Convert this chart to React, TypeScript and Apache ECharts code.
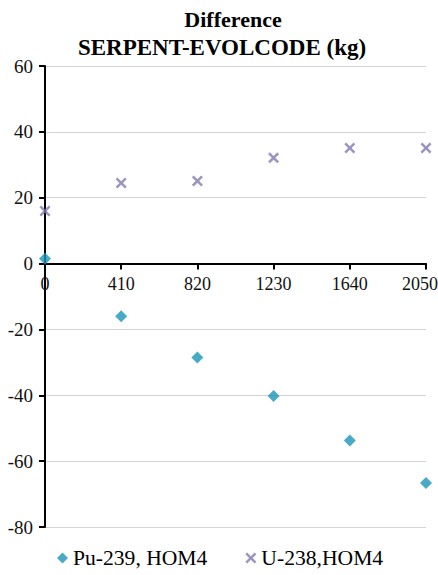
import React, { useEffect, useRef } from "react";
import * as echarts from "echarts";

const xValues = [0, 410, 820, 1230, 1640, 2050];
const pu239 = [1.5, -16, -28.5, -40.2, -53.7, -66.6];
const u238 = [16, 24.5, 25.1, 32.1, 35.1, 35.1];
const seriesNames = ["Pu-239, HOM4", "U-238,HOM4"];
const titleLines = ["Difference", "SERPENT-EVOLCODE (kg)"];
const yMin = -80;
const yMax = 60;
const xMax = 2050;

const crossPath =
  "path://M0,1.6L1.6,0L5,3.4L8.4,0L10,1.6L6.6,5L10,8.4L8.4,10L5,6.6L1.6,10L0,8.4L3.4,5Z";

export default function App() {
  const ref = useRef<HTMLDivElement>(null);
  useEffect(() => {
    if (!ref.current) return;
    const chart = echarts.init(ref.current, undefined, { renderer: "svg" });
    const serif = "Liberation Serif, Times New Roman, serif";
    const H = 575;
    const gridTop = 66;
    const gridBottom = 48;
    const gridH = H - gridTop - gridBottom;
    const zeroOffset = -(gridH * (0 - yMin)) / (yMax - yMin);
    chart.setOption({
      animation: false,
      backgroundColor: "#ffffff",
      title: [
        {
          text: titleLines[0],
          left: 228,
          textAlign: "center",
          top: 3,
          textStyle: { fontFamily: serif, fontWeight: "bold", fontSize: 22, color: "#000" },
        },
        {
          text: titleLines[1],
          left: 217,
          textAlign: "center",
          top: 31,
          textStyle: { fontFamily: serif, fontWeight: "bold", fontSize: 23, color: "#000" },
        },
      ],
      grid: { left: 45, right: 12, top: gridTop, bottom: gridBottom, containLabel: false, outerBoundsMode: "none" },
      xAxis: {
        type: "value",
        min: 0,
        max: xMax,
        interval: 410,
        position: "bottom",
        offset: zeroOffset,
        axisLine: { onZero: false, lineStyle: { color: "#000", width: 2 } },
        axisTick: { show: true, length: 6, lineStyle: { color: "#000", width: 2 } },
        axisLabel: {
          fontFamily: serif,
          fontSize: 18,
          color: "#111",
          margin: 11,
          showMaxLabel: true,
          showMinLabel: true,
          formatter: (v: number) => (v === xMax ? `{m|${v}}` : String(v)),
          rich: {
            m: { fontFamily: serif, fontSize: 18, color: "#111", padding: [0, 12, 0, 0] },
          },
        },
        splitLine: { show: false },
      },
      yAxis: {
        type: "value",
        min: yMin,
        max: yMax,
        interval: 20,
        axisLine: { show: true, lineStyle: { color: "#000", width: 2 } },
        axisTick: { show: true, length: 6, lineStyle: { color: "#000", width: 2 } },
        axisLabel: { fontFamily: serif, fontSize: 19, color: "#111", margin: 12 },
        splitLine: { show: true, lineStyle: { color: "#d4d4d4", width: 1 } },
      },
      legend: {
        top: 542,
        left: 52,
        itemGap: 38,
        itemWidth: 11,
        itemHeight: 11,
        textStyle: { fontFamily: serif, fontSize: 21.6, color: "#000" },
        data: [
          { name: seriesNames[0], icon: "diamond" },
          { name: seriesNames[1], icon: crossPath },
        ],
      },
      series: [
        {
          name: seriesNames[0],
          type: "scatter",
          symbol: "diamond",
          symbolSize: 12,
          clip: false,
          itemStyle: { color: "#1b95b8" },
          data: xValues.map((x, i) => [x, pu239[i]]),
        },
        {
          name: seriesNames[1],
          type: "scatter",
          symbol: crossPath,
          symbolSize: 11,
          clip: false,
          itemStyle: { color: "#8478b0" },
          data: xValues.map((x, i) => [x, u238[i]]),
        },
      ],
    });
    return () => chart.dispose();
  }, []);
  return <div ref={ref} style={{ width: 438, height: 575, position: "absolute", left: 0, top: 0 }} />;
}
